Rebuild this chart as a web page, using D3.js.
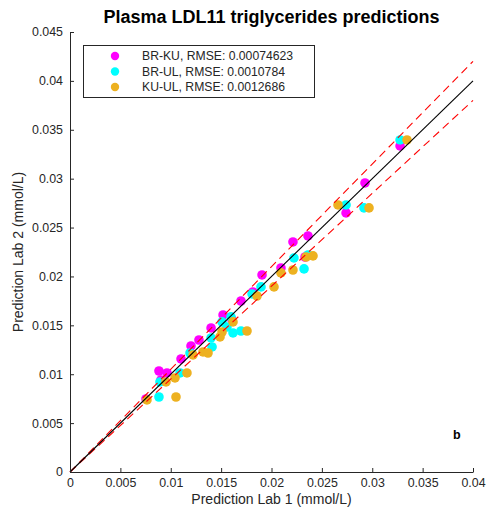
<!DOCTYPE html>
<html>
<head>
<meta charset="utf-8">
<script src="https://cdn.jsdelivr.net/npm/d3@7"></script>
<style>
  html, body { margin: 0; padding: 0; background: #fff; }
  text { font-family: "Liberation Sans", Arial, Helvetica, sans-serif; }
</style>
</head>
<body>
<svg id="chart" width="490" height="510"></svg>
<script>
const title = "Plasma LDL11 triglycerides predictions";
const xLabel = "Prediction Lab 1 (mmol/L)";
const yLabel = "Prediction Lab 2 (mmol/L)";
const seriesNames = ["BR-KU, RMSE: 0.00074623", "BR-UL, RMSE: 0.0010784", "KU-UL, RMSE: 0.0012686"];
const seriesColors = ["#ff00ff", "#00ffff", "#edb120"];
const xTicks = [0, 0.005, 0.01, 0.015, 0.02, 0.025, 0.03, 0.035, 0.04];
const yTicks = [0, 0.005, 0.01, 0.015, 0.02, 0.025, 0.03, 0.035, 0.04, 0.045];
const refSlopes = [1.05, 0.95];

const brkuX = [0.00754, 0.00883, 0.00963, 0.00903, 0.01102, 0.01201, 0.01280, 0.01400, 0.01519, 0.01608, 0.01697, 0.01816, 0.01906, 0.02094, 0.02213, 0.02333, 0.02362, 0.02740, 0.02928, 0.03276];
const brkuY = [0.00747, 0.01033, 0.01013, 0.00941, 0.01156, 0.01289, 0.01350, 0.01473, 0.01606, 0.01555, 0.01749, 0.01841, 0.02015, 0.02087, 0.02353, 0.02199, 0.02414, 0.02650, 0.02956, 0.03335];

const bruLX = [0.00883, 0.00893, 0.01092, 0.01191, 0.01410, 0.01509, 0.01618, 0.01697, 0.01558, 0.01807, 0.01896, 0.02223, 0.02362, 0.02323, 0.02740, 0.02918, 0.03276, 0.01400, 0.01598];
const bruLY = [0.00767, 0.00921, 0.01013, 0.01217, 0.01279, 0.01535, 0.01422, 0.01442, 0.01483, 0.01821, 0.01893, 0.02189, 0.02220, 0.02077, 0.02731, 0.02701, 0.03396, 0.01371, 0.01586];

const kuulX = [0.00764, 0.01052, 0.00953, 0.01042, 0.01161, 0.01221, 0.01320, 0.01370, 0.01489, 0.01509, 0.01618, 0.01757, 0.01856, 0.02025, 0.02094, 0.02213, 0.02343, 0.02412, 0.02660, 0.02968, 0.03345];
const kuulY = [0.00737, 0.00767, 0.00921, 0.00962, 0.01013, 0.01197, 0.01228, 0.01217, 0.01381, 0.01432, 0.01535, 0.01442, 0.01800, 0.01893, 0.02036, 0.02066, 0.02199, 0.02210, 0.02731, 0.02701, 0.03396];

const series = [
  {name: seriesNames[0], color: seriesColors[0], xs: brkuX, ys: brkuY},
  {name: seriesNames[1], color: seriesColors[1], xs: bruLX, ys: bruLY},
  {name: seriesNames[2], color: seriesColors[2], xs: kuulX, ys: kuulY}
];

const svg = d3.select("#chart");
const axisColor = "#262626";

const x = d3.scaleLinear().domain([0, 0.04]).range([70, 473]);
const y = d3.scaleLinear().domain([0, 0.045]).range([472, 32]);
const fmt = d => String(+d.toFixed(3));

// points
series.forEach(s => {
  svg.append("g").selectAll("circle")
    .data(s.xs.map((v, i) => [v, s.ys[i]]))
    .enter().append("circle")
    .attr("cx", d => x(d[0]))
    .attr("cy", d => y(d[1]))
    .attr("r", 4.8)
    .attr("fill", s.color);
});

// reference lines
const line = d3.line().x(d => x(d[0])).y(d => y(d[1]));
refSlopes.forEach(k => {
  svg.append("path")
    .attr("d", line([[0, 0], [0.04, 0.04 * k]]))
    .attr("stroke", "#ff0000").attr("stroke-width", 1.1)
    .attr("stroke-dasharray", "8,5").attr("fill", "none");
});
svg.append("path")
  .attr("d", line([[0, 0], [0.04, 0.04]]))
  .attr("stroke", "#000").attr("stroke-width", 1.1).attr("fill", "none");

// axes
const xAxis = svg.append("g").attr("transform", `translate(0,${y(0)})`)
  .call(d3.axisBottom(x).tickValues(xTicks).tickFormat(fmt).tickSizeInner(-4).tickSizeOuter(0).tickPadding(6));
const yAxis = svg.append("g").attr("transform", `translate(${x(0)},0)`)
  .call(d3.axisLeft(y).tickValues(yTicks).tickFormat(fmt).tickSizeInner(-4).tickSizeOuter(0).tickPadding(7));
[xAxis, yAxis].forEach(a => {
  a.select(".domain").attr("stroke", axisColor);
  a.selectAll(".tick line").attr("stroke", axisColor);
  a.selectAll(".tick text").attr("fill", axisColor)
    .style("font-size", "12.4px").style("font-family", '"Liberation Sans", Arial, sans-serif');
});

// title and labels
svg.append("text").attr("x", 271.5).attr("y", 23).attr("text-anchor", "middle")
  .style("font-size", "18px").style("font-weight", "bold").attr("fill", "#000").text(title);
svg.append("text").attr("x", 271.5).attr("y", 504).attr("text-anchor", "middle")
  .style("font-size", "14px").attr("fill", axisColor).text(xLabel);
svg.append("text").attr("transform", `translate(23,252) rotate(-90)`).attr("text-anchor", "middle")
  .style("font-size", "14px").attr("fill", axisColor).text(yLabel);
svg.append("text").attr("x", 453).attr("y", 439)
  .style("font-size", "12.5px").style("font-weight", "bold").attr("fill", "#000").text("b");

// legend
const lg = svg.append("g");
lg.append("rect").attr("x", 83.5).attr("y", 45.5).attr("width", 231).attr("height", 52)
  .attr("fill", "#fff").attr("stroke", axisColor).attr("stroke-width", 1);
series.forEach((s, i) => {
  const cy = 56 + i * 15.5;
  lg.append("circle").attr("cx", 115).attr("cy", cy).attr("r", 4.2).attr("fill", s.color);
  lg.append("text").attr("x", 142).attr("y", cy + 4.3).style("font-size", "12.2px")
    .attr("fill", axisColor).text(s.name);
});
</script>
</body>
</html>
